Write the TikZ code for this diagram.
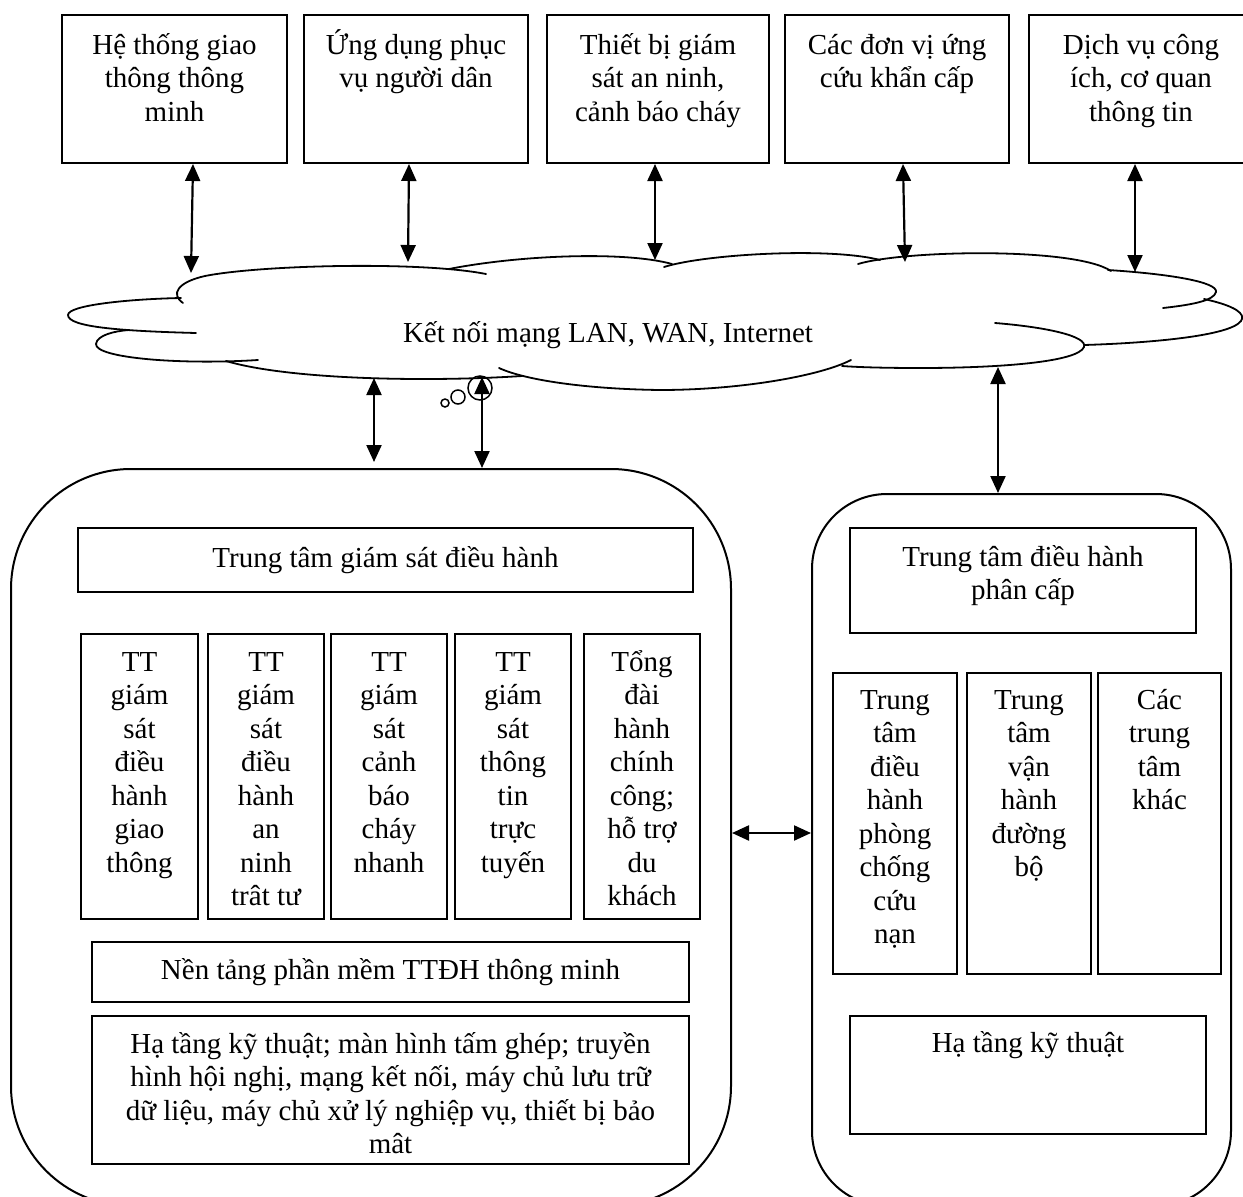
\documentclass[tikz,border=0pt]{standalone}
\usepackage{fontspec}
\setmainfont{Liberation Serif}
\usetikzlibrary{arrows.meta}
\newcommand\myfont{\fontsize{29}{33.5}\selectfont}
\newcommand\fl{\rule{0pt}{28pt}}
\begin{document}
\begin{tikzpicture}[x=1pt,y=-1pt,
  bx/.style={draw, line width=2pt, inner sep=0pt, anchor=north west, align=center, font=\myfont},
  lbl/.style={anchor=north, inner sep=0pt, align=center, font=\myfont},
  ctr/.style={inner sep=0pt, align=center, font=\myfont},
  dbl/.style={line width=2.2pt, {Triangle[length=17pt,width=15pt]}-{Triangle[length=17pt,width=15pt]}},
  cl/.style={line width=1.8pt, line cap=round},
  bub/.style={draw, circle, line width=1.5pt, inner sep=0pt}
]
\useasboundingbox (0,0) rectangle (1243,1197);
\clip (0,0) rectangle (1243,1197);

% top boxes
\node[bx, minimum width=225pt, minimum height=148pt] (t1) at (61,14) {};
\node[bx, minimum width=224pt, minimum height=148pt] (t2) at (303,14) {};
\node[bx, minimum width=222pt, minimum height=148pt] (t3) at (546,14) {};
\node[bx, minimum width=224pt, minimum height=148pt] (t4) at (784,14) {};
\node[bx, minimum width=224pt, minimum height=148pt] (t5) at (1028,14) {};
\node[lbl] (t1x) at ([yshift=-12pt]t1.north) {\fl Hệ thống giao\\thông thông\\minh};
\node[lbl] (t2x) at ([yshift=-12pt]t2.north) {\fl Ứng dụng phục\\vụ người dân};
\node[lbl] (t3x) at ([yshift=-12pt]t3.north) {\fl Thiết bị giám\\sát an ninh,\\cảnh báo cháy};
\node[lbl] (t4x) at ([yshift=-12pt]t4.north) {\fl Các đơn vị ứng\\cứu khẩn cấp};
\node[lbl] (t5x) at ([yshift=-12pt]t5.north) {\fl Dịch vụ công\\ích, cơ quan\\thông tin};

% cloud
\draw[cl] (183,303) .. controls (170,294) and (178,282) .. (205,276) .. controls (260,265) and (420,261) .. (486,274);
\draw[cl] (449,269) .. controls (520,255) and (625,251) .. (672,264);
\draw[cl] (664,267) .. controls (705,254) and (830,247) .. (880,260);
\draw[cl] (858,264) .. controls (905,250) and (1075,247) .. (1111,271);
\draw[cl] (1108,270) .. controls (1170,274) and (1218,282) .. (1216,292) .. controls (1214,301) and (1190,305) .. (1163,308);
\draw[cl] (1204,299) .. controls (1236,306) and (1246,314) .. (1241,321) .. controls (1230,336) and (1150,343) .. (1084,345);
\draw[cl] (995,323) .. controls (1045,327) and (1088,336) .. (1084,347) .. controls (1078,362) and (1000,368) .. (920,368) .. controls (880,368) and (855,367) .. (842,366);
\draw[cl] (851,360) .. controls (820,376) and (740,390) .. (660,390) .. controls (585,389) and (525,380) .. (499,368);
\draw[cl] (226,361) .. controls (290,380) and (430,382) .. (522,376);
\draw[cl] (258,360) .. controls (180,365) and (95,358) .. (96,344) .. controls (97,335) and (115,331) .. (129,330);
\draw[cl] (181,298) .. controls (130,299) and (68,305) .. (68,315) .. controls (68,327) and (120,331) .. (196,333);
\node[ctr, anchor=base] (net) at (608,342) {Kết nối mạng LAN, WAN, Internet};

% bubbles
\node[bub, minimum size=24pt] (bb1) at (480,388) {};
\node[bub, minimum size=14pt] (bb2) at (458,397) {};
\node[bub, minimum size=8pt] (bb3) at (445,403) {};

% big rounded boxes
\node[bx, rounded corners=120pt, minimum width=720pt, minimum height=737pt] (lb) at (10,468) {};
\node[bx, rounded corners=75pt, minimum width=419pt, minimum height=712pt] (rb) at (811,493) {};

% left contents
\node[bx, minimum width=615pt, minimum height=64pt] (lt) at (77,527) {Trung tâm giám sát điều hành};
\node[bx, minimum width=117pt, minimum height=285pt] (l1) at (80,633) {};
\node[bx, minimum width=116pt, minimum height=285pt] (l2) at (207,633) {};
\node[bx, minimum width=116pt, minimum height=285pt] (l3) at (330,633) {};
\node[bx, minimum width=116pt, minimum height=285pt] (l4) at (454,633) {};
\node[bx, minimum width=116pt, minimum height=285pt] (l5) at (583,633) {};
\node[lbl] (l1x) at ([yshift=-10pt]l1.north) {\fl TT\\giám\\sát\\điều\\hành\\giao\\thông};
\node[lbl] (l2x) at ([yshift=-10pt]l2.north) {\fl TT\\giám\\sát\\điều\\hành\\an\\ninh\\trât tư};
\node[lbl] (l3x) at ([yshift=-10pt]l3.north) {\fl TT\\giám\\sát\\cảnh\\báo\\cháy\\nhanh};
\node[lbl] (l4x) at ([yshift=-10pt]l4.north) {\fl TT\\giám\\sát\\thông\\tin\\trực\\tuyến};
\node[lbl] (l5x) at ([yshift=-10pt]l5.north) {\fl Tổng\\đài\\hành\\chính\\công;\\hỗ trợ\\du\\khách};
\node[bx, minimum width=597pt, minimum height=60pt] (ln) at (91,941) {Nền tảng phần mềm TTĐH thông minh};
\node[bx, minimum width=597pt, minimum height=148pt] (lh) at (91,1015) {};
\node[lbl] (lhx) at ([yshift=-10pt]lh.north) {\fl Hạ tầng kỹ thuật; màn hình tấm ghép; truyền\\hình hội nghị, mạng kết nối, máy chủ lưu trữ\\dữ liệu, máy chủ xử lý nghiệp vụ, thiết bị bảo\\mât};

% right contents
\node[bx, minimum width=346pt, minimum height=105pt] (rt) at (849,527) {};
\node[lbl] (rtx) at ([yshift=-11pt]rt.north) {\fl Trung tâm điều hành\\phân cấp};
\node[bx, minimum width=124pt, minimum height=301pt] (ra) at (832,672) {};
\node[bx, minimum width=124pt, minimum height=301pt] (rb2) at (966,672) {};
\node[bx, minimum width=123pt, minimum height=301pt] (rc) at (1097,672) {};
\node[lbl] (rax) at ([yshift=-9pt]ra.north) {\fl Trung\\tâm\\điều\\hành\\phòng\\chống\\cứu\\nạn};
\node[lbl] (rbx) at ([yshift=-9pt]rb2.north) {\fl Trung\\tâm\\vận\\hành\\đường\\bộ};
\node[lbl] (rcx) at ([yshift=-9pt]rc.north) {\fl Các\\trung\\tâm\\khác};
\node[bx, minimum width=356pt, minimum height=118pt] (rh) at (849,1015) {};
\node[lbl] (rhx) at ([yshift=-9pt]rh.north) {\fl Hạ tầng kỹ thuật};

% connectors top
\coordinate (a1t) at (193,164); \coordinate (a1b) at (191,273);
\coordinate (a2t) at (409,164); \coordinate (a2b) at (408,262);
\coordinate (a3t) at (655,164); \coordinate (a3b) at (655,260);
\coordinate (a4t) at (903,164); \coordinate (a4b) at (905,262);
\coordinate (a5t) at (1135,164); \coordinate (a5b) at (1135,272);
\draw[dbl] (a1t) -- (a1b);
\draw[dbl] (a2t) -- (a2b);
\draw[dbl] (a3t) -- (a3b);
\draw[dbl] (a4t) -- (a4b);
\draw[dbl] (a5t) -- (a5b);

% connectors bottom
\coordinate (c1t) at (374,378); \coordinate (c1b) at (374,462);
\coordinate (c2t) at (482,377);
\coordinate (c3t) at (998,367);
\coordinate (hy) at (0,833);
\draw[dbl] (c1t) -- (c1b);
\draw[dbl] (c2t) -- (c2t |- lb.north);
\draw[dbl] (c3t) -- (c3t |- rb.north);
\draw[dbl] (lb.east |- hy) -- (rb.west |- hy);
\end{tikzpicture}
\end{document}
